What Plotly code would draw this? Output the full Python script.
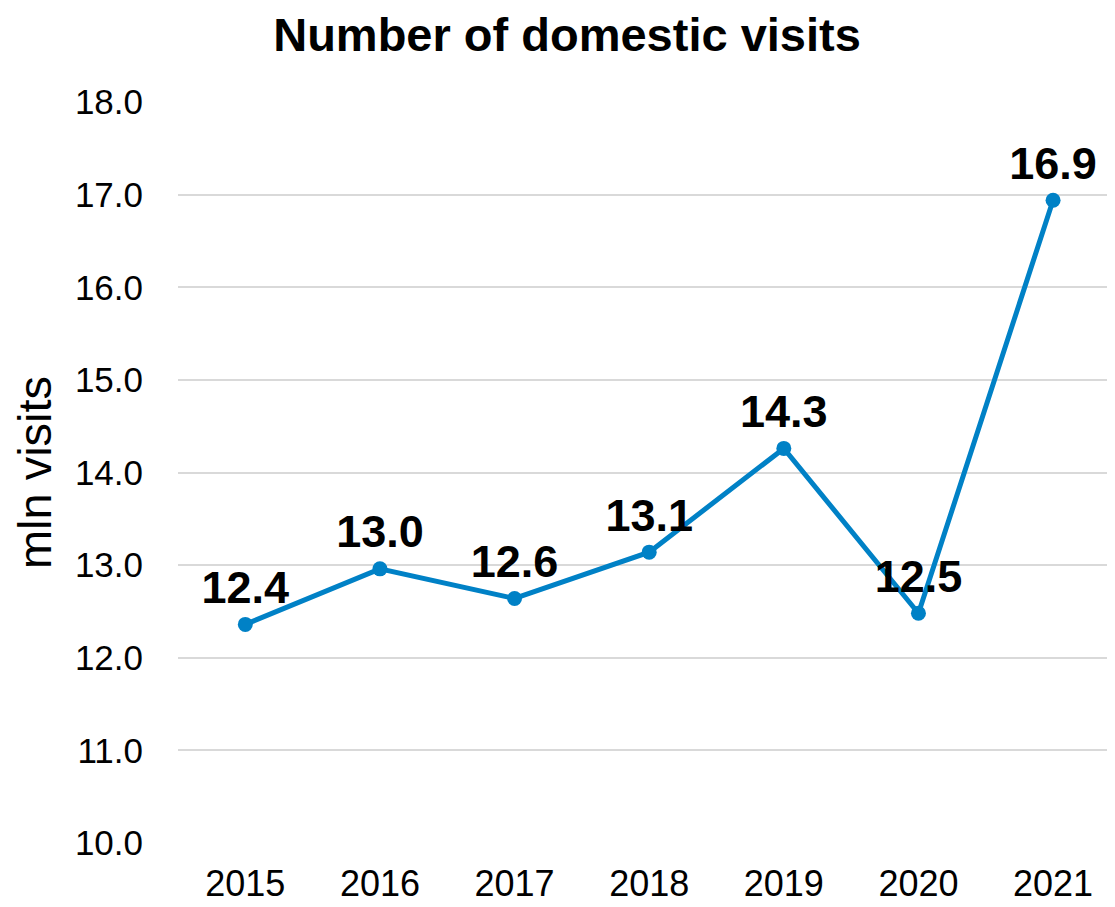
import plotly.graph_objects as go

years = ['2015', '2016', '2017', '2018', '2019', '2020', '2021']
visits = [12.36, 12.96, 12.64, 13.14, 14.26, 12.48, 16.94]
y_ticks = [10, 11, 12, 13, 14, 15, 16, 17, 18]

line_color = '#0081C6'
font_family = 'Liberation Sans, Arial, sans-serif'

fig = go.Figure()
fig.add_trace(go.Scatter(
    x=years, y=visits, mode='lines+markers+text',
    line=dict(color=line_color, width=5),
    marker=dict(color=line_color, size=15),
    texttemplate='<b>%{y:.1f}</b>', textposition='top center',
    textfont=dict(family=font_family, size=45, color='black'),
    cliponaxis=False, showlegend=False
))

# the page puts the figure 8px in from the corner, so size and margins allow for it
fig.update_layout(
    width=1107, height=899,
    plot_bgcolor='white', paper_bgcolor='white',
    margin=dict(l=170, r=0, t=94, b=64),
    title=dict(text='<b>Number of domestic visits</b>', x=0.505, xanchor='center',
               y=0.971, yanchor='middle',
               font=dict(family=font_family, size=47, color='black')),
    font=dict(family=font_family, color='black'),
)
fig.update_xaxes(
    range=[-0.5, 6.46],
    showgrid=False, showline=False, ticks='',
    tickfont=dict(size=36, color='black'), ticklabelstandoff=16
)
fig.update_yaxes(
    range=[10, 18], tickvals=y_ticks, tickformat='.1f',
    showgrid=True, gridcolor='#d9d9d9', gridwidth=2, zeroline=False,
    showline=False, ticks='',
    tickfont=dict(size=35, color='black'), ticklabelstandoff=34,
    title=dict(text='mln visits', font=dict(size=47, color='black'), standoff=28)
)

fig.write_html("out.html")
